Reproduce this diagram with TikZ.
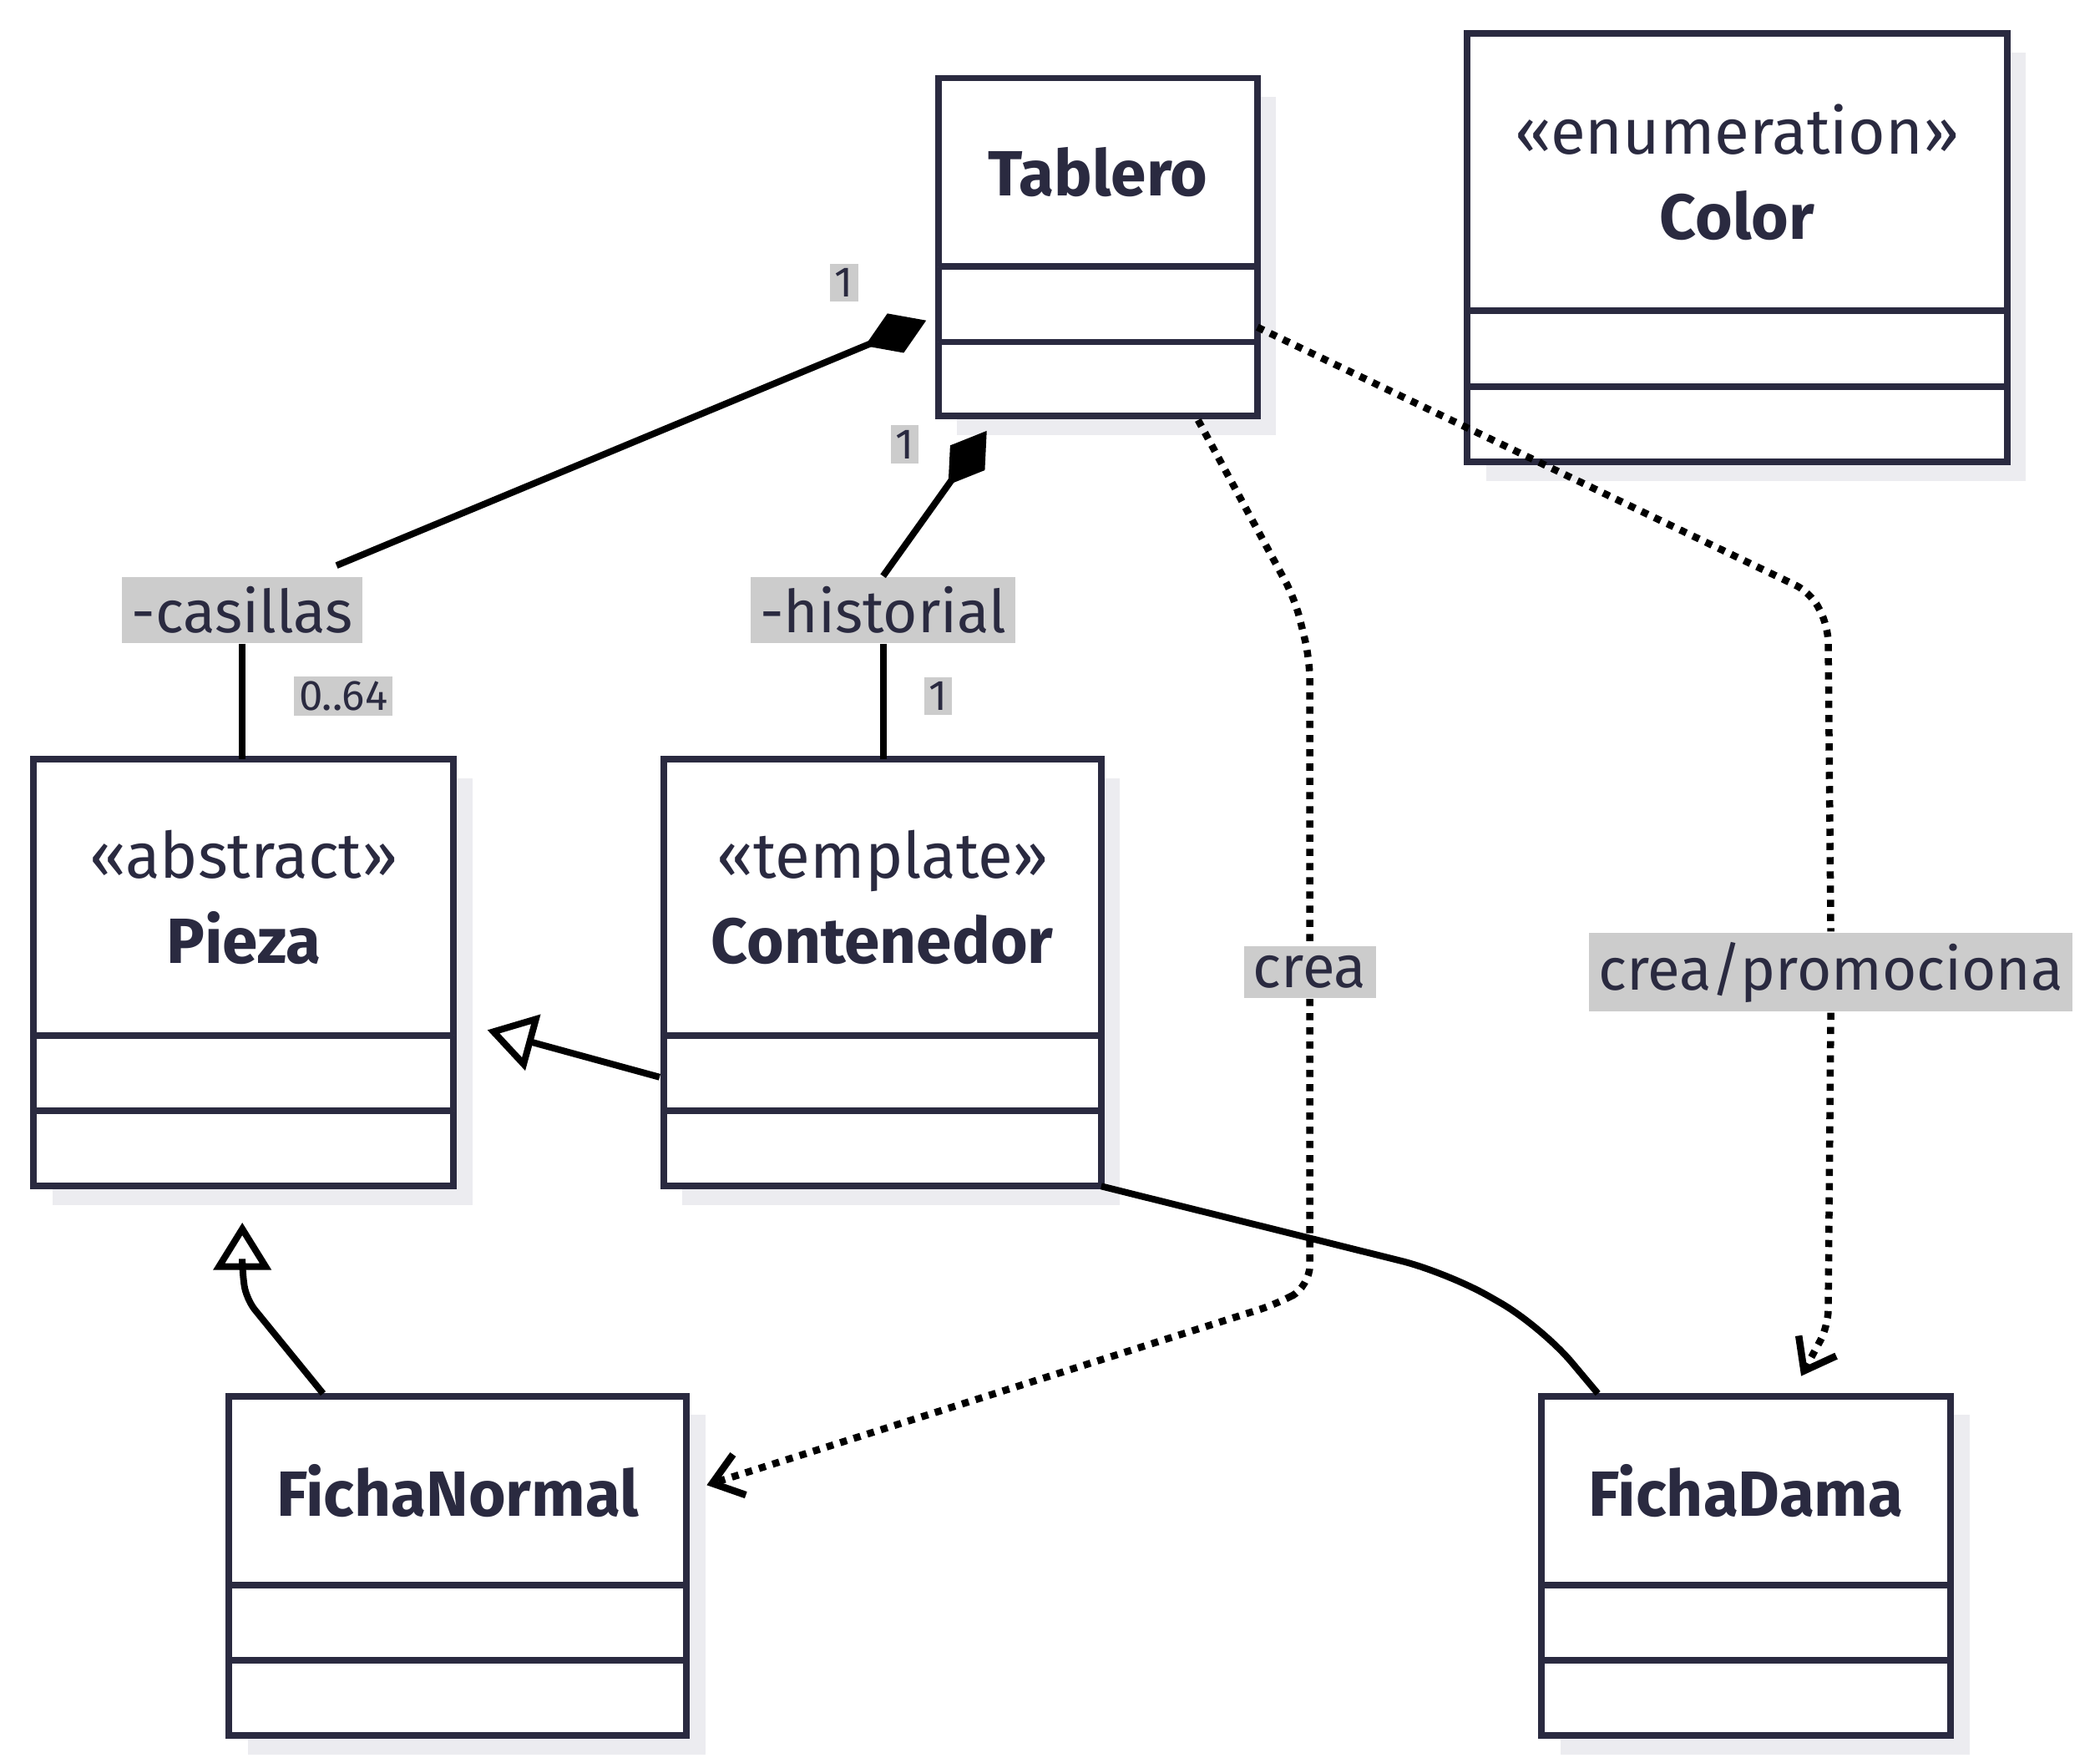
\documentclass[tikz,border=0pt]{standalone}
\usepackage{fontspec}
\setmainfont{Fira Sans}
\usetikzlibrary{arrows.meta,positioning}
\definecolor{umlInk}{RGB}{42,42,64}
\definecolor{umlShade}{RGB}{236,236,240}
\definecolor{umlLabel}{RGB}{204,204,204}

% class box: name, left, top, right, bottom, divider1, divider2, text
\newcommand{\umlbox}[8]{%
  \fill[umlShade] (#2+14,#3+14) rectangle (#4+14,#5+14);
  \draw[cls] (#2,#3) rectangle (#4,#5);
  \draw[cls] (#2,#6) -- (#4,#6) (#2,#7) -- (#4,#7);
  \node[title] (#1) at ({(#2+#4)/2},{(#3+#6)/2}) {#8};
  \coordinate (#1-nw) at (#2,#3);
  \coordinate (#1-se) at (#4,#5);
}

\begin{document}
\begin{tikzpicture}[x=0.01cm,y=-0.01cm,
  cls/.style={draw=umlInk,line width=1.4pt,fill=white},
  title/.style={text=umlInk,font=\fontsize{13.5}{18}\selectfont,align=center},
  role/.style={fill=umlLabel,text=umlInk,inner sep=2pt,font=\fontsize{12.5}{14}\selectfont},
  mult/.style={fill=umlLabel,text=umlInk,inner sep=1pt,font=\fontsize{9}{11}\selectfont},
  edge/.style={line width=1.4pt,black},
  dots/.style={edge,line width=1.5pt,dash pattern=on 1.5pt off 1.5pt},
  dep/.style={dots,-{Straight Barb[length=6pt,width=9pt]}},
  gen/.style={edge,-{Triangle[open,length=10pt,width=12pt]}},
  comp/.style={edge,{Diamond[length=14pt,width=9pt]}-}]
\useasboundingbox (0,0) rectangle (1560,1309);

\umlbox{tablero}{697}{58}{934}{309}{198}{254}{\textbf{Tablero}}
\umlbox{color}{1090}{25}{1491}{343}{231}{287}{«enumeration»\\\textbf{Color}}
\umlbox{pieza}{25}{564}{337}{881}{769}{825}{«abstract»\\\textbf{Pieza}}
\umlbox{contenedor}{493}{564}{818}{881}{769}{825}{«template»\\\textbf{Contenedor}}
\umlbox{fichanormal}{170}{1037}{510}{1289}{1177}{1233}{\textbf{FichaNormal}}
\umlbox{fichadama}{1145}{1037}{1449}{1289}{1177}{1233}{\textbf{FichaDama}}

% composition: casillas
\coordinate (casA) at (688,238);
\coordinate (casB) at (180,564);
\node[role] (casillas) at (180,453) {-casillas};
\draw[comp] (casA) -- (250,420);
\draw[edge] (casillas) -- (casB);
\node[mult] (m1) at (627,210) {1};
\node[mult] (m2) at (255,517) {0..64};

% composition: historial
\coordinate (hisA) at (733,320);
\coordinate (hisB) at (656,564);
\node[role] (historial) at (656,453) {-historial};
\draw[comp] (hisA) -- (historial.north);
\draw[edge] (historial) -- (hisB);
\node[mult] (m3) at (672,330) {1};
\node[mult] (m4) at (697,517) {1};

% dependencies
\coordinate (creaA) at (890,312);
\coordinate (creaB) at (525,1103);
\node[role] (crea) at (973,722) {crea};
\draw[dots,rounded corners=0.15cm] (creaA) -- (962,445) -- (973,490) -- (crea.north);
\draw[dep,rounded corners=0.15cm] (crea.south) -- (973,955) -- (950,968) -- (creaB);
\coordinate (promA) at (934,243);
\coordinate (promB) at (1338,1022);
\node[role] (promo) at (1360,722) {crea/promociona};
\draw[dots,rounded corners=0.12cm] (promA) -- (1345,440) -- (1358,465) -- (promo.north);
\draw[dep,rounded corners=0.12cm] (promo.south) -- (1358,985) -- (promB);

% generalizations
\coordinate (contL) at (490,800);
\coordinate (piezaR) at (362,765);
\draw[gen] (contL) -- (piezaR);
\coordinate (normT) at (240,1035);
\coordinate (piezaB) at (180,908);
\draw[gen,rounded corners=0.1cm] (normT) -- (183,965) -- (180,945) -- (piezaB);

% association
\coordinate (damaT) at (1187,1035);
\draw[edge,rounded corners=0.35cm] (damaT) -- (1145,985) -- (1075,945) -- (contenedor-se);
\end{tikzpicture}
\end{document}
